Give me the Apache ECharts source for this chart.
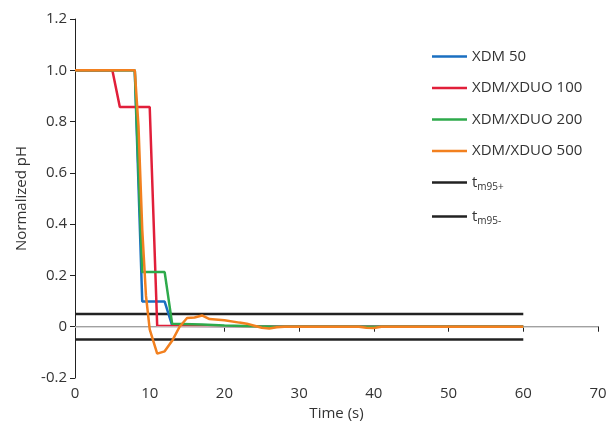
<!DOCTYPE html>
<html>
<head>
<meta charset="utf-8">
<script src="https://cdn.jsdelivr.net/npm/echarts@6/dist/echarts.min.js"></script>
<style>
  html, body { margin: 0; padding: 0; background: #fff; }
  #chart { width: 610px; height: 431px; }
</style>
</head>
<body>
<div id="chart"></div>
<script>
// time (s) / normalized pH
var xdm50T = [0, 8, 9, 12, 13, 17, 22, 60];
var xdm50V = [1.0, 1.0, 0.098, 0.098, 0.005, 0.003, 0, 0];

var xdm100T = [0, 5, 6, 10, 11, 20, 25, 60];
var xdm100V = [1.0, 1.0, 0.857, 0.857, 0.004, 0.002, 0, 0];

var xdm200T = [0, 8, 9, 12, 13, 17, 20, 24, 27, 60];
var xdm200V = [1.0, 1.0, 0.213, 0.213, 0.012, 0.009, 0.005, 0.002, 0, 0];

var xdm500T = [0, 8, 8.5, 9, 9.5, 10, 11, 12, 13, 14, 15, 16, 17, 18, 20, 22, 23, 24, 25, 26, 27, 28, 38, 39, 40, 41, 60];
var xdm500V = [1.0, 1.0, 0.78, 0.38, 0.12, -0.01, -0.105, -0.096, -0.055, 0.0, 0.034, 0.036, 0.044, 0.03, 0.025, 0.016, 0.012, 0.004, -0.004, -0.007, -0.002, 0, 0, -0.004, -0.005, 0, 0];

var limitT = [0, 60];
var limitPlus = [0.05, 0.05];
var limitMinus = [-0.05, -0.05];

var names = ['XDM 50', 'XDM/XDUO 100', 'XDM/XDUO 200', 'XDM/XDUO 500', 'tm95+', 'tm95-'];
var colors = ['#1a6fc1', '#e11f3a', '#2eaa4b', '#f2801f', '#222222', '#222222'];

function pairs(t, v) {
    var out = [];
    for (var i = 0; i < t.length; i++) out.push([t[i], v[i]]);
    return out;
}

var seriesData = [
    pairs(xdm50T, xdm50V),
    pairs(xdm100T, xdm100V),
    pairs(xdm200T, xdm200V),
    pairs(xdm500T, xdm500V),
    pairs(limitT, limitPlus),
    pairs(limitT, limitMinus)
];

var series = [];
// black limit lines drawn first, colored curves on top
var order = [4, 5, 0, 1, 2, 3];
order.forEach(function (i) {
    series.push({
        name: names[i],
        type: 'line',
        symbol: 'none',
        animation: false,
        z: i >= 4 ? 2 : 3 + i,
        lineStyle: { color: colors[i], width: 2.5 },
        itemStyle: { color: colors[i] },
        data: seriesData[i]
    });
});
series[0].markLine = {
    silent: true,
    symbol: 'none',
    label: { show: false },
    lineStyle: { color: '#cccccc', width: 1.5, type: 'solid' },
    data: [{ yAxis: 0 }]
};

var chart = echarts.init(document.getElementById('chart'));
chart.setOption({
    backgroundColor: '#fff',
    textStyle: { fontFamily: 'Open Sans' },
    grid: { left: 75, right: 12, top: 19, bottom: 53 },
    legend: {
        orient: 'vertical',
        left: 427,
        top: 44,
        icon: 'rect',
        itemWidth: 35,
        itemHeight: 2.5,
        itemGap: 16.5,
        data: names,
        formatter: function (n) {
            if (n.charAt(0) === 't') return '{t|t}{s|' + n.slice(1) + '}';
            return n;
        },
        textStyle: {
            color: '#333',
            fontSize: 15,
            rich: {
                t: { fontSize: 15, color: '#333' },
                s: { fontSize: 10, color: '#333', padding: [10, 0, 0, 0] }
            }
        }
    },
    xAxis: {
        type: 'value',
        min: 0,
        max: 70,
        interval: 10,
        name: 'Time (s)',
        nameLocation: 'middle',
        nameGap: 27,
        nameTextStyle: { color: '#333', fontSize: 15 },
        axisLine: { lineStyle: { color: '#222', width: 1 } },
        axisTick: { length: 5, lineStyle: { color: '#222' } },
        axisLabel: { color: '#333', fontSize: 15, margin: 8 },
        splitLine: { show: false }
    },
    yAxis: {
        type: 'value',
        min: -0.2,
        max: 1.2,
        interval: 0.2,
        name: 'Normalized pH',
        nameLocation: 'middle',
        nameGap: 46,
        nameTextStyle: { color: '#333', fontSize: 15 },
        axisLine: { show: true, lineStyle: { color: '#222', width: 1 } },
        axisTick: { show: true, length: 5, lineStyle: { color: '#222' } },
        axisLabel: {
            color: '#333',
            fontSize: 15,
            margin: 8,
            formatter: function (v) {
                return Math.abs(v) < 1e-9 ? '0' : v.toFixed(1);
            }
        },
        splitLine: { show: false }
    },
    series: series
});
</script>
</body>
</html>
